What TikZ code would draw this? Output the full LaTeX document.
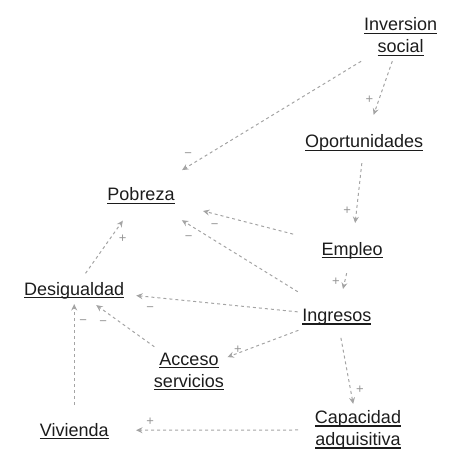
\documentclass[tikz,border=0pt]{standalone}
\usepackage{fontspec}
\setmainfont{Liberation Sans}
\usetikzlibrary{arrows.meta}
\definecolor{txt}{HTML}{1C1C1C}
\definecolor{edgec}{HTML}{A4A4A4}
\definecolor{lbl}{HTML}{959595}
\newcommand\ulx[1]{\setbox0=\hbox{#1}\rlap{\rule[-3.4pt]{\wd0}{1.6pt}}\box0}
\newcommand\twol[2]{\begin{tabular}[t]{@{}c@{}}\ulx{#1}\\\ulx{#2}\end{tabular}}
\tikzset{
  var/.style={inner sep=0pt, outer sep=0pt, text=txt, font=\fontsize{18}{22}\selectfont},
  one/.style={var, text height=14pt, text depth=2.6pt},
  two/.style={var, anchor=base},
  link/.style={draw=edgec, line width=1pt, dash pattern=on 3pt off 3pt,
    -{Stealth[length=6.5pt,width=6pt,inset=2.2pt]}},
  sg/.style={font=\fontsize{13}{15}\selectfont, text=lbl, inner sep=0pt},
}
\begin{document}
\begin{tikzpicture}[x=1pt,y=-1pt]
\useasboundingbox (0,0) rectangle (474,467);
% nodes
\node[two] (inv) at (400.6,30.7) {\twol{Inversion}{social}};
\node[one] (opo) at (364.2,142) {\ulx{Oportunidades}};
\node[one] (pob) at (141,195) {\ulx{Pobreza}};
\node[one] (emp) at (352.2,249.3) {\ulx{Empleo}};
\node[one] (des) at (74.2,289.3) {\ulx{Desigualdad}};
\node[one] (ing) at (336.8,315.8) {\ulx{Ingresos}};
\node[two] (acc) at (189,365) {\twol{Acceso}{servicios}};
\node[one] (viv) at (74.2,430.3) {\ulx{Vivienda}};
\node[two] (cap) at (358,423.3) {\twol{Capacidad}{adquisitiva}};
% connectors
\draw[link, shorten <=46.2pt, shorten >=48pt] (inv.center) -- node[sg, pos=0.80, xshift=-4.7pt, yshift=8pt] {−} (pob.center);
\draw[link, shorten <=25.2pt, shorten >=28.7pt] (inv.center) -- node[sg, pos=0.627, xshift=-8.4pt, yshift=3pt] {+} (opo.center);
\draw[link, shorten <=21.2pt, shorten >=26.4pt] (opo.center) -- node[sg, pos=0.648, xshift=-9.2pt, yshift=1pt] {+} (emp.center);
\draw[link, shorten <=24.5pt, shorten >=27.5pt] (emp.center) -- node[sg, pos=0.52, xshift=-8.2pt, yshift=1.8pt] {+} (ing.center);
\draw[link, shorten <=61pt, shorten >=64pt] (emp.center) -- node[sg, pos=0.637, xshift=-2.9pt, yshift=-11.4pt] {−} (pob.center);
\draw[link, shorten <=45.8pt, shorten >=48pt] (ing.center) -- node[sg, pos=0.726, xshift=-6pt, yshift=-9.8pt] {−} (pob.center);
\draw[link, shorten <=39.3pt, shorten >=62.3pt] (ing.center) -- node[sg, pos=0.706, xshift=-1.3pt, yshift=-12.1pt] {−} (des.center);
\draw[link, shorten <=41.1pt, shorten >=41.1pt] (ing.center) -- node[sg, pos=0.662, xshift=-1pt, yshift=2.7pt] {+} (acc.center);
\draw[link, shorten <=22.4pt, shorten >=26.4pt] (ing.center) -- node[sg, pos=0.666, xshift=9pt, yshift=1.6pt] {+} (cap.center);
\draw[link, shorten <=60pt, shorten >=61.8pt] (cap.center) -- node[sg, pos=0.732, yshift=8.5pt] {+} (viv.center);
\draw[link, shorten <=25.3pt, shorten >=14.7pt] (viv.center) -- node[sg, pos=0.766, xshift=9pt] {−} (des.center);
\draw[link, shorten <=42.6pt, shorten >=27.1pt] (acc.center) -- node[sg, pos=0.696, xshift=-6pt, yshift=-8.4pt] {−} (des.center);
\draw[link, shorten <=19.6pt, shorten >=31.4pt] (des.center) -- node[sg, pos=0.596, xshift=8.6pt, yshift=-6pt] {+} (pob.center);
\end{tikzpicture}
\end{document}
